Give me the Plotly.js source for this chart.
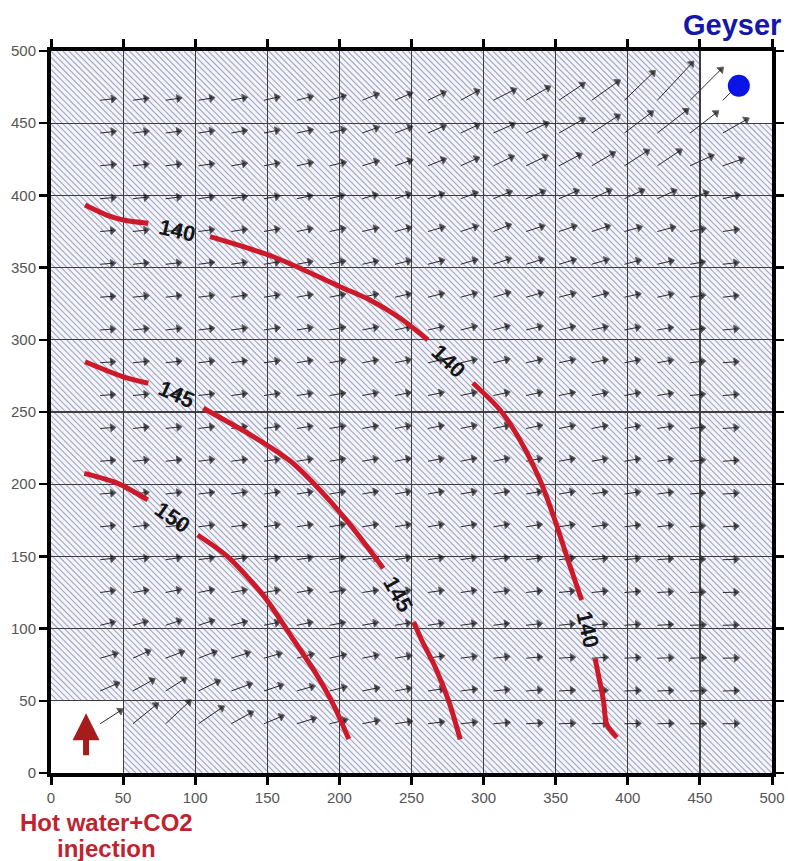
<!DOCTYPE html>
<html><head><meta charset="utf-8">
<script src="https://cdn.plot.ly/plotly-3.0.1.min.js"></script>
<style>html,body{margin:0;padding:0;background:#fff}#chart{width:788px;height:861px}</style>
</head><body><div id="chart"></div>
<script>
// ---- arrow field grid (tail positions, same for x and y) ----
const gridPos = [34.1, 56.8, 79.5, 102.3, 125.0, 147.7, 170.5, 193.2, 215.9, 238.6, 261.4, 284.1, 306.8, 329.5, 352.3, 375.0, 397.7, 420.5, 443.2, 465.9];

// arrow x components, rows bottom (y=34.1) to top (y=465.9)
const arrowU = [
 [14,16,16,16,13.5,12,11.5,10.5,10,10,9.5,9.5,9.5,9.5,9.3,9.3,9.3,9.3,9.3,9.3],
 [11.5,13.4,12.7,13.2,12.7,11.5,10.5,10,10,9.5,9.5,9.5,9.3,9.3,9.2,9.2,9.2,9.2,9.2,9.2],
 [10.4,10.4,11.1,10.9,11.2,10.5,10,9.7,9.5,9.5,9.3,9.3,9.2,9.2,9.2,9.2,9.2,9.2,9.2,9.2],
 [8.5,8.5,9.2,9.2,9.2,9,9,9,9,9,9,9,9,9,9,9,9,9,9,9],
 [8.5,9,9,9,9,9,9,9,9,9,9,9,9,9,9,9,9,9,8.5,9],
 [8.5,9,9,9,9,9,9,9,9,9,9,9,9,9,9,9,9,9,8.5,9],
 [8.5,9,9,9,9,9,9,9,9,9,9,9,9,9,9,9,9,9,8.5,9],
 [8.5,9,9,9,9,9,9,9,9,9,9,9,9,9,9,9,9,9,8.5,9],
 [8.5,9,9,9,9,9,9,9,9,9,9,9,9.2,9.2,9.1,9,9,9,8.5,9],
 [8.5,9,9,9,9,9,9,9,9,9,9,9.2,9.3,9.3,9.2,9.1,9,9,8.5,9],
 [8.5,9,9,9,9,9,9,9,9,9,9.1,9.2,9.3,9.3,9.2,9.2,9,9,8.5,9],
 [8.5,9,9,9,9,9,9,9,9,9.1,9.2,9.3,9.4,9.4,9.3,9.2,9,9,8.5,9],
 [8.5,9,9,9,9,9,9,9,9.1,9.2,9.3,9.4,9.5,9.5,9.3,9.3,9,9,8.5,9],
 [8.5,9,9,9,9,9,9,9,9.1,9.2,9.4,9.6,10,10,9.7,9.7,9.3,9.3,8.5,9],
 [8.5,9,9,9,9,9,9,9,9.2,9.3,9.5,9.8,10.4,10.4,10,10,9.5,9.5,8.5,9],
 [8.5,9,9,9,9,9,9,9.2,9.3,9.5,9.8,10.2,10.4,10.9,10.4,10.9,10.2,10.6,8.8,9.3],
 [9,9,9,9,9,9,9,8.5,8.8,9.2,9.5,10,11,11.5,12,12,12,11.5,11,10],
 [9,9,9,9,9,9,9.3,9.5,9.7,10.2,10.7,11,12.5,13.2,14,14.5,15.5,15.3,14.6,12.8],
 [9,9,9,9,9,9,9.3,9.5,9.7,10.2,10.7,11.4,13.2,13.9,16.2,17.9,18.3,20,18,16.2],
 [9,9,9,9,9,9,9.3,9.5,9.7,10.2,10.7,11.4,14,15,16.2,17.9,19.7,23.7,21.4,8]
];
// arrow y components
const arrowV = [
 [9,13,15,11,7.5,5,3.5,2.5,2,1.5,1.2,1,0.8,0.5,0.3,0.3,0.2,0.2,0.1,0.1],
 [5,7.4,8,6.5,4.6,3.8,3,2.5,2,1.7,1.4,1.2,0.9,0.7,0.5,0.4,0.3,0.3,0.2,0.2],
 [3,4.6,4.2,4.2,3.5,3,2.6,2.2,1.9,1.6,1.4,1.2,1,0.8,0.6,0.5,0.4,0.3,0.3,0.2],
 [2,2.3,3,3,2.3,1.8,1.8,1.7,1.6,1.5,1.3,1.2,1.1,1,0.9,0.8,0.6,0.5,0.3,0.2],
 [1.2,1.5,1.8,1.8,1.6,1.5,1.5,1.5,1.4,1.4,1.3,1.3,1.2,1.1,1,0.9,0.7,0.5,0.3,0.2],
 [0.9,1.2,1.3,1.3,1.3,1.3,1.4,1.4,1.4,1.4,1.4,1.4,1.3,1.2,1.2,1,0.9,0.7,0.4,0.3],
 [0.8,1,1,1.1,1.2,1.3,1.4,1.5,1.5,1.5,1.5,1.5,1.5,1.4,1.4,1.2,1.1,1,0.6,0.5],
 [0.7,1,1,1.1,1.2,1.3,1.4,1.5,1.6,1.6,1.6,1.6,1.6,1.6,1.5,1.4,1.3,1.2,0.7,0.5],
 [0.7,0.9,1,1.1,1.2,1.3,1.4,1.5,1.6,1.7,1.7,1.8,1.8,1.7,1.7,1.6,1.5,1.3,0.8,0.6],
 [0.6,0.9,1,1.1,1.2,1.3,1.4,1.5,1.6,1.7,1.8,1.9,1.9,1.9,1.8,1.7,1.6,1.4,0.8,0.6],
 [0.6,0.9,1,1.1,1.2,1.3,1.4,1.5,1.7,1.8,1.9,2,2,2,1.9,1.8,1.7,1.5,0.9,0.7],
 [0.6,0.9,1,1.1,1.2,1.3,1.5,1.6,1.7,1.9,2,2.1,2.2,2.1,2,1.9,1.8,1.6,1,0.7],
 [0.6,0.9,1,1.1,1.2,1.4,1.5,1.7,1.8,2,2.1,2.3,2.5,2.3,2.2,2,1.8,1.5,1,0.8],
 [0.6,0.9,1,1.1,1.3,1.4,1.6,1.8,1.9,2.1,2.3,2.6,3,2.8,2.5,2.5,2,2,1.2,1],
 [0.7,0.9,1,1.2,1.3,1.5,1.7,1.9,2,2.3,2.5,2.9,3.5,3.2,3,3,2.5,2.3,1.5,1],
 [0.7,1,1.1,1.2,1.4,1.6,1.8,2,2.2,2.5,2.8,3.3,4.2,3.5,3.5,3.5,2.8,2.8,1.8,1.4],
 [0.8,1,1.1,1.2,1.4,1.6,1.9,2.2,2.6,3,3.2,3.8,4.5,4.8,5.2,5.5,5.5,5.3,4,2.3],
 [0.9,1,1.1,1.3,1.5,1.7,2,2.2,3,3.5,4.2,5,6,6.3,7.4,8.5,10,10.2,6.7,4.4],
 [1,1.1,1.2,1.4,1.6,1.8,2,2.3,3.5,3.9,4.6,5.3,5.8,6.5,9.2,11.6,13.9,15.5,13.9,9.2],
 [1,1.2,1.3,1.5,1.7,2,2.3,2.8,3.9,4.4,5.1,6.2,7,8.6,10.9,12.7,19,25.4,21.3,8]
];

// ---- temperature contours (null = gap for label) ----
const c140x = [23.6, 38.6, 50.1, 67.5, null, 110.3, 154.2, 200.4, 221.2, 242, 261.4, null, 292.6, 311.4, 325.2, 339, 349.5, 358.5, 368, null, 377.3, 383.1, 385.4, 392.4];
const c140y = [393.3, 386.4, 383, 380.7, null, 371.4, 357.5, 336.8, 327.6, 315.1, 299.9, null, 270.1, 251.4, 230.6, 203, 175, 147.5, 119.8, null, 79.3, 50.1, 33.8, 24.5];
const c145x = [23.6, 50.1, 67.5, null, 105.6, 140.3, 165.7, 186.5, 207.4, 230.4, null, 251.5, 257, 266.4, 275.7, 283.8];
const c145y = [284.8, 274.4, 269.9, null, 252.6, 233, 216.2, 196, 172, 141.8, null, 104.5, 92.1, 73.4, 50.1, 23.3];
const c150x = [23.1, 46.3, 67.1, null, 101.7, 122.5, 148, 167, 183, 196, 206.5];
const c150y = [207.5, 200.6, 189.1, null, 164.8, 149.8, 122, 94, 70, 47, 23.5];

// contour labels
const labelText  = ['140', '140', '140', '145', '145', '150'];
const labelX     = [87.7, 276, 372.4, 87.2, 240.6, 84.4];
const labelY     = [376, 285, 99.7, 261.8, 123.3, 176.9];
const labelAngle = [13, 44, 77, 24, 61, 35];

// wells
const geyserX = [477], geyserY = [476];
const injX = [24.3], injTailY = [11.3], injHeadY = [41.3];

// model cells without hatching (well cells)
const injBox = {x0: 0, x1: 50, y0: 0, y1: 50};
const geyBox = {x0: 450, x1: 500, y0: 450, y1: 500};

// build arrow segments
const ax = [], ay = [], asz = [];
for (let j = 0; j < gridPos.length; j++) {
  for (let i = 0; i < gridPos.length; i++) {
    const x0 = gridPos[i], y0 = gridPos[j];
    ax.push(x0, x0 + arrowU[j][i], null);
    ay.push(y0, y0 + arrowV[j][i], null);
    asz.push(0, 7, 0);
  }
}

// hatch decoration: diagonal "\" lines as one path (below the grid)
let hatchPath = '';
const step = 4.2;
for (let c = -500; c <= 500; c += step) {
  hatchPath += 'M' + c.toFixed(2) + ',500L' + (c + 500).toFixed(2) + ',0';
}

const RED = '#cc1a2a';
const traces = [
  {x: ax, y: ay, mode: 'lines+markers', line: {color: '#2a2a2a', width: 1},
   marker: {symbol: 'triangle-up', angleref: 'previous', size: asz, color: '#000'},
   hoverinfo: 'skip', showlegend: false},
  {x: c140x, y: c140y, mode: 'lines', line: {color: RED, width: 5, shape: 'spline', smoothing: 0.8}, showlegend: false, hoverinfo: 'skip'},
  {x: c145x, y: c145y, mode: 'lines', line: {color: RED, width: 5, shape: 'spline', smoothing: 0.8}, showlegend: false, hoverinfo: 'skip'},
  {x: c150x, y: c150y, mode: 'lines', line: {color: RED, width: 5, shape: 'spline', smoothing: 0.8}, showlegend: false, hoverinfo: 'skip'},
  {x: geyserX, y: geyserY, mode: 'markers', marker: {color: '#0a14e6', size: 22}, showlegend: false, hoverinfo: 'skip'}
];

const FONT = 'Liberation Sans, Arial, sans-serif';
const annotations = labelText.map((t, k) => ({
  x: labelX[k], y: labelY[k], xref: 'x', yref: 'y', text: '<b>' + t + '</b>', showarrow: false,
  textangle: labelAngle[k], font: {family: FONT, size: 22, color: '#151515'}
}));
annotations.push(
  {x: injX[0], y: injHeadY[0], ax: injX[0], ay: injTailY[0], xref: 'x', yref: 'y', axref: 'x', ayref: 'y',
   text: '', showarrow: true, arrowhead: 2, arrowsize: 0.9, arrowwidth: 6, arrowcolor: '#a51c1c'},
  {x: 0.944, y: 1.036, xref: 'paper', yref: 'paper', text: '<b>Geyser</b>', showarrow: false,
   xanchor: 'center', yanchor: 'middle', font: {family: FONT, size: 29, color: '#1616a8'}},
  {x: 0.0763, y: -0.068, xref: 'paper', yref: 'paper', text: '<b>Hot water+CO2</b>', showarrow: false,
   xanchor: 'center', yanchor: 'middle', font: {family: FONT, size: 24, color: '#c0232f'}},
  {x: 0.0763, y: -0.105, xref: 'paper', yref: 'paper', text: '<b>injection</b>', showarrow: false,
   xanchor: 'center', yanchor: 'middle', font: {family: FONT, size: 24, color: '#c0232f'}}
);

const axisCommon = {
  range: [0, 500], tick0: 0, dtick: 50, showgrid: true, gridcolor: '#3e3e3e', gridwidth: 1.2,
  zeroline: false, showline: true, linecolor: '#000', linewidth: 4, mirror: 'ticks',
  ticks: 'outside', ticklen: 8, tickcolor: '#000',
  tickfont: {family: FONT, size: 15, color: '#555'}, fixedrange: true
};

const shapes = [
  {type: 'path', xref: 'x', yref: 'y', path: hatchPath, line: {color: '#a3a6c4', width: 1.1}, layer: 'below'}
].concat([injBox, geyBox].map(b => ({type: 'rect', xref: 'x', yref: 'y', x0: b.x0, x1: b.x1, y0: b.y0, y1: b.y1,
    fillcolor: '#fff', line: {width: 0}, layer: 'below'})));

const layout = {
  width: 788, height: 861,
  margin: {l: 51, r: 16, t: 51, b: 88},
  paper_bgcolor: '#fff', plot_bgcolor: '#f4f4fb',
  xaxis: Object.assign({}, axisCommon, {tickwidth: 3}),
  yaxis: Object.assign({}, axisCommon, {tickwidth: 2.5}),
  shapes: shapes,
  annotations: annotations,
  showlegend: false
};

Plotly.newPlot('chart', traces, layout, {displayModeBar: false, staticPlot: true});
</script>
</body></html>
